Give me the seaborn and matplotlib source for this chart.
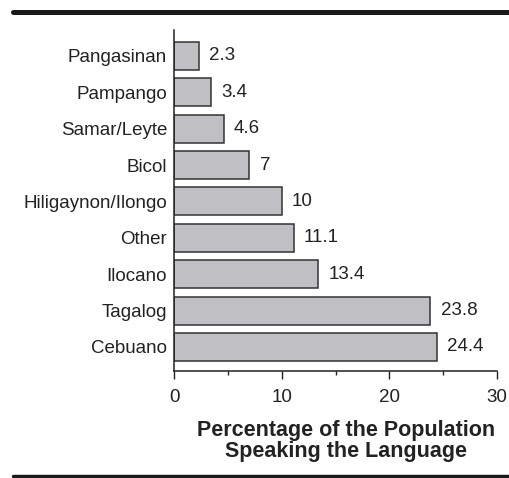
import matplotlib
matplotlib.use("Agg")
import matplotlib.pyplot as plt
from matplotlib.lines import Line2D
import seaborn as sns
import pandas as pd

languages = ["Pangasinan", "Pampango", "Samar/Leyte", "Bicol", "Hiligaynon/Ilongo",
             "Other", "Ilocano", "Tagalog", "Cebuano"]
shares = [2.3, 3.4, 4.6, 7, 10, 11.1, 13.4, 23.8, 24.4]
value_labels = ["2.3", "3.4", "4.6", "7", "10", "11.1", "13.4", "23.8", "24.4"]

df = pd.DataFrame({"language": languages, "share": shares})

sns.set_style("white")
plt.rcParams["font.family"] = ["Liberation Sans", "DejaVu Sans"]

TXT = "#222222"
W, H = 509, 478
fig = plt.figure(figsize=(W / 100, H / 100), dpi=100)
ax = fig.add_axes([174 / W, 1 - 371 / H, (497 - 174) / W, (371 - 30) / H])

sns.barplot(data=df, x="share", y="language", orient="h", ax=ax,
            color="#c0c0c4", edgecolor="#333333", linewidth=1.1, width=0.77,
            saturation=1)

for i, (v, t) in enumerate(zip(shares, value_labels)):
    ax.annotate(t, (v, i), xytext=(7.5, 0), textcoords="offset points",
                va="center", ha="left", fontsize=13.5, color=TXT)

ax.set_xlim(0, 30)
ax.set_ylim(8.66, -0.71)
ax.set_xticks([0, 10, 20, 30])
ax.set_xticks([5, 15, 25], minor=True)
ax.tick_params(axis="x", which="major", length=6, width=1, color=TXT,
               labelsize=13.5, labelcolor=TXT, pad=7, bottom=True)
ax.tick_params(axis="x", which="minor", length=3, width=1, color=TXT, bottom=True)
ax.tick_params(axis="y", length=0, labelsize=13.5, labelcolor=TXT, pad=5)
ax.set_ylabel("")
ax.set_xlabel("Percentage of the Population\nSpeaking the Language",
              fontsize=15.5, fontweight="bold", color=TXT, linespacing=1.0)
ax.xaxis.label.set_va("center")
ax.xaxis.set_label_coords(0.533, -(441 - 371) / (371 - 30))
sns.despine(ax=ax, top=True, right=True)
for s in ("left", "bottom"):
    ax.spines[s].set_color(TXT)
    ax.spines[s].set_linewidth(1.1)

# rules above and below the chart
fig.add_artist(Line2D([13 / W, 1], [1 - 11.5 / H] * 2, transform=fig.transFigure,
                      color="#1a1a1a", linewidth=3.6))
fig.add_artist(Line2D([13 / W, 1], [1 - 476 / H] * 2, transform=fig.transFigure,
                      color="#1a1a1a", linewidth=2.5))

fig.savefig("out.png", dpi=100)
